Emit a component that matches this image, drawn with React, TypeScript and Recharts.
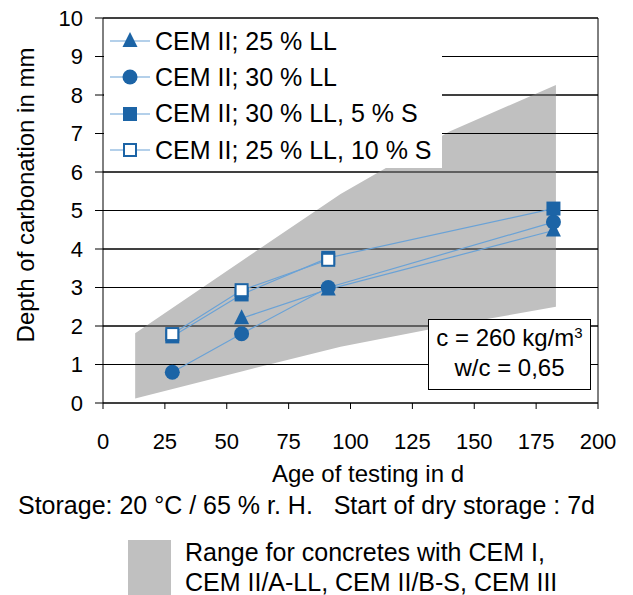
import {
  ComposedChart,
  Line,
  Area,
  XAxis,
  YAxis,
  CartesianGrid,
  ReferenceLine,
  Legend,
} from 'recharts'

const FONT = '"Liberation Sans", Arial, sans-serif'
const MARK = '#1c64a6'
const LINE = '#6aa2d6'
const BAND = '#c0c0c0'

const xTicks = [0, 25, 50, 75, 100, 125, 150, 175, 200]
const yTicks = [0, 1, 2, 3, 4, 5, 6, 7, 8, 9, 10]

// range band (grey)
const bandAge = [13, 56, 96, 140, 183]
const bandLow = [0.12, 0.82, 1.46, 2.01, 2.5]
const bandHigh = [1.81, 3.69, 5.43, 7.05, 8.26]

// measured series
const ageTri = [56, 91, 182]
const depthTri = [2.2, 2.95, 4.48]
const ageCirc = [28, 56, 91, 182]
const depthCirc = [0.8, 1.8, 3.0, 4.7]
const ageFsq = [28, 56, 91, 182]
const depthFsq = [1.73, 2.82, 3.77, 5.05]
const ageOsq = [28, 56, 91]
const depthOsq = [1.79, 2.93, 3.72]

const seriesNames = [
  'CEM II; 25 % LL',
  'CEM II; 30 % LL',
  'CEM II; 30 % LL, 5 % S',
  'CEM II; 25 % LL, 10 % S',
]
const seriesKinds = ['tri', 'circ', 'fsq', 'osq']

const bandData = bandAge.map((x, i) => ({ x, range: [bandLow[i], bandHigh[i]] }))
const zip = (xs: number[], ys: number[]) => xs.map((x, i) => ({ x, y: ys[i] }))

function Marker({ cx, cy, kind }: { cx: number; cy: number; kind: string }) {
  if (kind === 'tri')
    return <polygon points={`${cx},${cy - 9} ${cx - 7.5},${cy + 6} ${cx + 7.5},${cy + 6}`} fill={MARK} />
  if (kind === 'circ') return <circle cx={cx} cy={cy} r={7.5} fill={MARK} />
  if (kind === 'fsq') return <rect x={cx - 7} y={cy - 7} width={14} height={14} fill={MARK} />
  return <rect x={cx - 6} y={cy - 6} width={12} height={12} fill="#fff" stroke={MARK} strokeWidth={2} />
}

const dotFor = (kind: string) => (p: any) =>
  <Marker key={`${kind}-${p.index}`} cx={p.cx} cy={p.cy} kind={kind} />

function LegendBox() {
  return (
    <div style={{ background: '#fff', width: 338, height: 149, fontFamily: FONT, fontSize: 25 }}>
      {seriesNames.map((name, i) => (
        <div key={name} style={{ height: 36.3, display: 'flex', alignItems: 'center', paddingTop: i === 0 ? 4 : 0 }}>
          <svg width={46} height={24} style={{ marginLeft: 5 }}>
            <line x1={1} x2={41} y1={12} y2={12} stroke={LINE} strokeWidth={1.2} />
            <Marker cx={21} cy={12} kind={seriesKinds[i]} />
          </svg>
          <span style={{ color: '#000' }}>{name}</span>
        </div>
      ))}
    </div>
  )
}

export default function App() {
  return (
    <div style={{ position: 'absolute', left: 0, top: 0, width: 633, height: 595, background: '#fff', fontFamily: FONT }}>
      <ComposedChart width={633} height={595} margin={{ top: 18, right: 35, bottom: 152, left: 0 }}>
        <XAxis
          type="number"
          dataKey="x"
          domain={[0, 200]}
          ticks={xTicks}
          interval={0}
          tickSize={6}
          tickMargin={24}
          height={40}
          axisLine={{ stroke: '#000' }}
          tickLine={{ stroke: '#000' }}
          tick={{ fill: '#000', fontSize: 22, fontFamily: FONT }}
          allowDuplicatedCategory={false}
          label={{
            content: () => (
              <text x={368} y={482} textAnchor="middle" fontSize={24} fontFamily={FONT} fill="#000">
                Age of testing in d
              </text>
            ),
          }}
        />
        <YAxis
          type="number"
          domain={[0, 10]}
          ticks={yTicks}
          interval={0}
          width={103}
          tickSize={8}
          tickMargin={12}
          axisLine={{ stroke: '#000' }}
          tickLine={{ stroke: '#000' }}
          tick={{ fill: '#000', fontSize: 22, fontFamily: FONT }}
          label={{
            content: () => (
              <text
                x={25}
                y={195}
                transform="rotate(-90 25 195)"
                textAnchor="middle"
                dominantBaseline="central"
                fontSize={24}
                fontFamily={FONT}
                fill="#000"
              >
                Depth of carbonation in mm
              </text>
            ),
          }}
        />
        <Area
          data={bandData}
          dataKey="range"
          type="linear"
          stroke="none"
          fill={BAND}
          fillOpacity={1}
          isAnimationActive={false}
          activeDot={false}
          legendType="none"
        />
        <CartesianGrid vertical={false} stroke="#000" strokeOpacity={1} />
        {yTicks.slice(1, -1).map((v) => (
          <ReferenceLine key={v} y={v} stroke="#000" strokeWidth={1} />
        ))}
        <ReferenceLine x={200} stroke="#000" strokeWidth={1} />
        <ReferenceLine y={10} stroke="#000" strokeWidth={1} />
        <Line data={zip(ageTri, depthTri)} dataKey="y" name={seriesNames[0]} stroke={LINE} strokeWidth={1.2} dot={dotFor('tri')} activeDot={false} isAnimationActive={false} />
        <Line data={zip(ageCirc, depthCirc)} dataKey="y" name={seriesNames[1]} stroke={LINE} strokeWidth={1.2} dot={dotFor('circ')} activeDot={false} isAnimationActive={false} />
        <Line data={zip(ageFsq, depthFsq)} dataKey="y" name={seriesNames[2]} stroke={LINE} strokeWidth={1.2} dot={dotFor('fsq')} activeDot={false} isAnimationActive={false} />
        <Line data={zip(ageOsq, depthOsq)} dataKey="y" name={seriesNames[3]} stroke={LINE} strokeWidth={1.2} dot={dotFor('osq')} activeDot={false} isAnimationActive={false} />
        <Legend
          layout="horizontal"
          verticalAlign="middle"
          align="center"
          content={() => <LegendBox />}
          wrapperStyle={{ left: 104, top: 19, width: 338, height: 149 }}
        />
      </ComposedChart>

      <div
        style={{
          position: 'absolute',
          left: 428,
          top: 319,
          width: 161,
          height: 66,
          border: '1px solid #000',
          background: '#fff',
          fontSize: 24,
          lineHeight: '30px',
          textAlign: 'center',
          paddingTop: 3,
          boxSizing: 'content-box',
          whiteSpace: 'nowrap',
        }}
      >
        <div>
          c = 260 kg/m<sup style={{ fontSize: 15, verticalAlign: 'top', lineHeight: '20px' }}>3</sup>
        </div>
        <div>w/c = 0,65</div>
      </div>

      <div style={{ position: 'absolute', left: 18, top: 491, fontSize: 25, whiteSpace: 'pre', color: '#000' }}>
        {'Storage: 20 °C / 65 % r. H.   Start of dry storage : 7d'}
      </div>

      <div style={{ position: 'absolute', left: 128, top: 540, width: 43, height: 55, background: BAND }} />
      <div style={{ position: 'absolute', left: 185, top: 537, fontSize: 25, lineHeight: '30px', color: '#000', whiteSpace: 'nowrap' }}>
        <div>Range for concretes with CEM I,</div>
        <div>CEM II/A-LL, CEM II/B-S, CEM III</div>
      </div>
    </div>
  )
}
